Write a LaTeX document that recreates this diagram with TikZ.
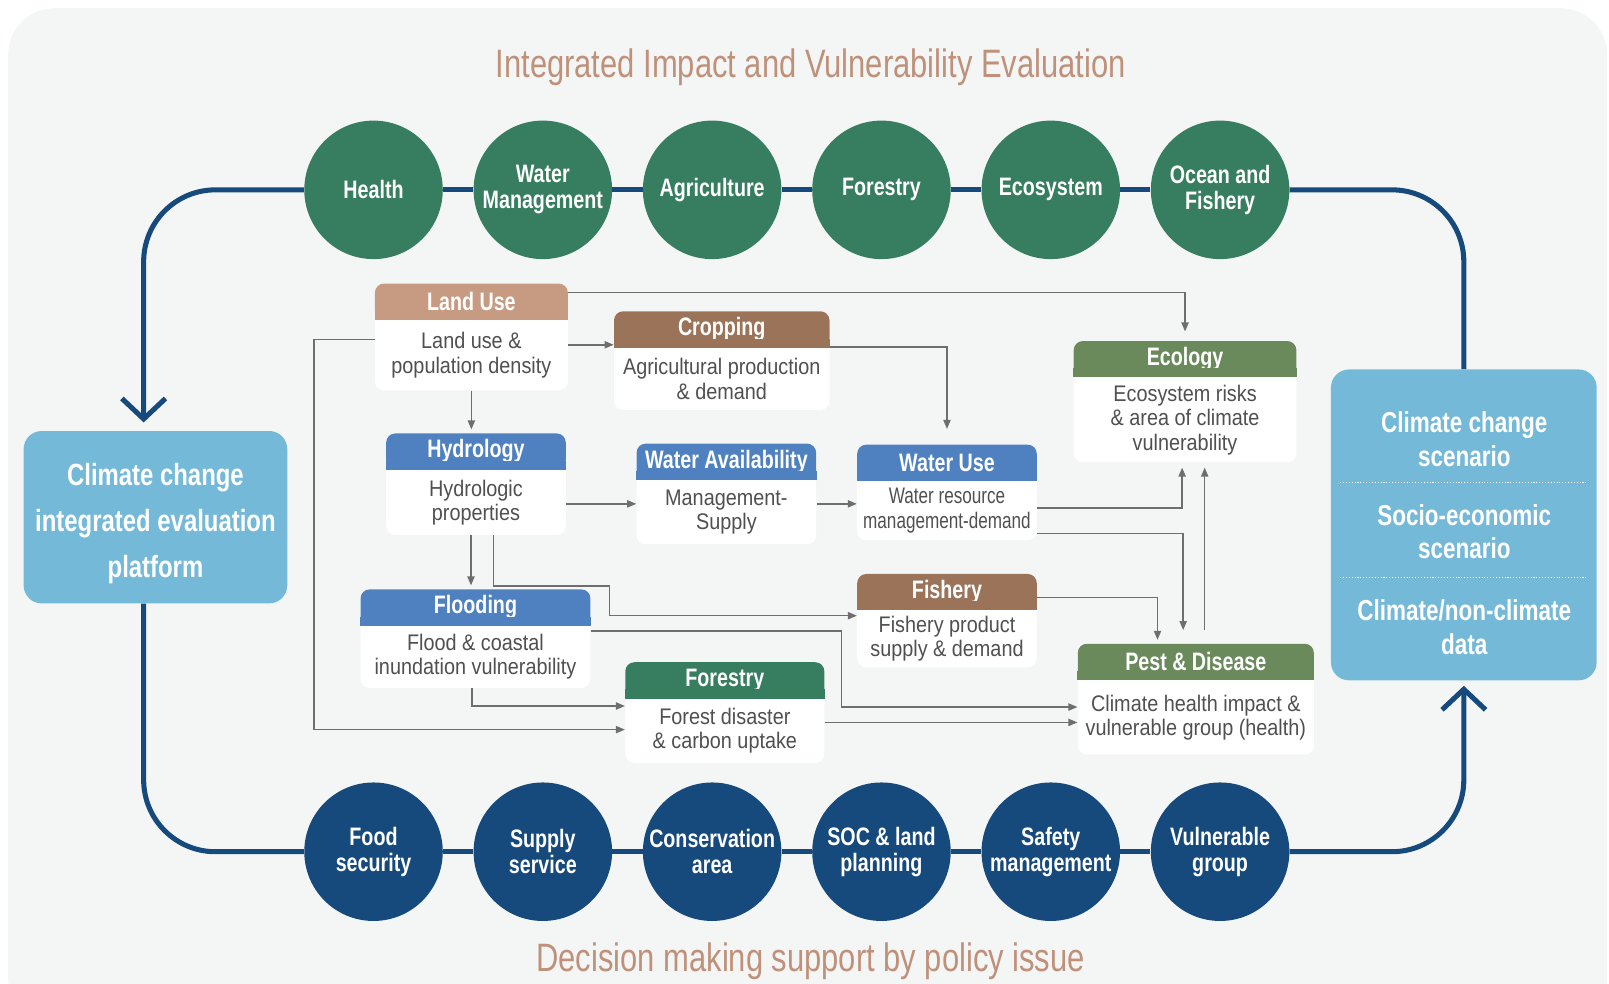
\documentclass[tikz,border=0pt]{standalone}
\usepackage{fontspec}
\setmainfont{Liberation Sans}[FakeStretch=0.78]
\newfontfamily\bodyfont{Liberation Sans}[FakeStretch=0.88]
\newfontfamily\narrowfont{Liberation Sans}[FakeStretch=0.76]
\usetikzlibrary{arrows.meta,calc,positioning}
\definecolor{bggray}{HTML}{F4F6F6}
\definecolor{titletan}{HTML}{C0917A}
\definecolor{navy}{HTML}{174A7C}
\definecolor{leafgreen}{HTML}{377E60}
\definecolor{skyblue}{HTML}{75B9D9}
\definecolor{landtan}{HTML}{C79B82}
\definecolor{cropbrown}{HTML}{9B7359}
\definecolor{hydroblue}{HTML}{4F81C1}
\definecolor{olive}{HTML}{6B8A5C}
\definecolor{flowgray}{HTML}{6E6E6E}
\definecolor{bodygray}{HTML}{505050}
\begin{document}
\begin{tikzpicture}
[x=0.02cm,y=-0.02cm,
  loopline/.style={line width=2.8pt,draw=navy},
  looptip/.style={-{Straight Barb[length=0.4cm,width=0.85cm]}},
  topcirc/.style={shape=circle,minimum size=2.7cm,inner sep=0pt,fill=leafgreen,
    text=white,align=center,font=\bfseries\fontsize{14}{14.5}\selectfont},
  botcirc/.style={topcirc,fill=navy},
  modbox/.style={shape=rectangle,rounded corners=5pt,fill=white,anchor=north west,inner sep=0pt},
  headbox/.style={shape=rectangle,rounded corners=5pt,anchor=north,inner sep=0pt,
    minimum height=0.7cm,text=white,font=\bfseries\fontsize{14}{15}\selectfont},
  bodytext/.style={align=center,inner sep=0pt,text=bodygray,font=\bodyfont\fontsize{12.5}{13.5}\selectfont},
  bluebox/.style={shape=rectangle,rounded corners=10pt,fill=skyblue,text=white,align=center},
  sidetext/.style={align=center,text=white,font=\bfseries\fontsize{16}{18.7}\selectfont},
  flow/.style={draw=flowgray,line width=0.8pt,-{Triangle[length=5pt,width=4pt]}}]
\useasboundingbox (0,0) rectangle (1568,958);
\fill[bggray,rounded corners=0.9cm] (8,8) rectangle (1566,1000);

%% titles
\node (toptitle) [text=titletan,font=\fontsize{22}{24}\selectfont] at (790,66)
  {Integrated Impact and Vulnerability Evaluation};
\node (bottitle) [text=titletan,font=\fontsize{22}{24}\selectfont] at (790,937)
  {Decision making support by policy issue};

%% sector circles
\foreach \nodename/\x/\txt in {health/364/Health, watermgmt/529/{Water\\Management},
  agri/694/Agriculture, forest/859/Forestry, eco/1024/Ecosystem,
  ocean/1189/{Ocean and\\Fishery}} {
  \node (\nodename) [topcirc] at (\x,185) {\txt};
}
\foreach \nodename/\x/\txt in {food/364/{Food\\security}, supply/529/{Supply\\service},
  conserve/694/{Conservation\\area}, soc/859/{SOC \& land\\planning},
  safety/1024/{Safety\\management}, vulnerable/1189/{Vulnerable\\group}} {
  \node (\nodename) [botcirc] at (\x,830) {\txt};
}
\foreach \startnode/\endnode in {health/watermgmt, watermgmt/agri, agri/forest,
  forest/eco, eco/ocean, food/supply, supply/conserve, conserve/soc,
  soc/safety, safety/vulnerable} {
  \draw[loopline] (\startnode) -- (\endnode);
}

%% side boxes
\node (platform) [bluebox,minimum width=5.14cm,minimum height=3.36cm] at (151.5,504) {};
\node (platform-t) [sidetext,font=\bfseries\fontsize{17}{25.5}\selectfont] at (151.5,510)
  {Climate change\\integrated evaluation\\platform};
\node (scenbox) [bluebox,minimum width=5.18cm,minimum height=6.06cm] at (1426.5,511.5) {};
\node (ccscen) [sidetext] at (1427,428) {Climate change\\scenario};
\node (sescen) [sidetext] at (1427,518) {Socio-economic\\scenario};
\node (cndata) [sidetext] at (1427,611) {Climate/non-climate\\data};
\draw[white,densely dotted,line width=0.6pt] (1306,470) -- (1547,470);
\draw[white,densely dotted,line width=0.6pt] (1306,563) -- (1547,563);

%% the loop
\draw[loopline,looptip,rounded corners=1.4cm] (health.west) -| ($(platform.north -| 140,0)+(0,-8)$);
\draw[loopline,rounded corners=1.4cm] (platform.south -| 140,0) |- (food.west);
\draw[loopline,looptip,rounded corners=1.4cm] (vulnerable.east) -| ($(scenbox.south)+(0,5)$);
\draw[loopline,rounded corners=1.4cm] (ocean.east) -| (scenbox.north);

%% model boxes
\foreach \n/\x/\y/\w/\h/\c/\t/\b in {
  landuse/365/276/188/104/landtan/Land Use/{Land use \&\\population density},
  cropping/598/303/210/96/cropbrown/Cropping/{Agricultural production\\\& demand},
  hydrology/376/422/175/99/hydroblue/Hydrology/{Hydrologic\\properties},
  wateravail/620/432/175/98/hydroblue/Water Availability/{Management-\\Supply},
  wateruse/835/433/175/93/hydroblue/Water Use/{\narrowfont Water resource\\\narrowfont management-demand},
  ecology/1046/332/217/118/olive/Ecology/{Ecosystem risks\\\& area of climate\\vulnerability},
  flooding/351/574/224/96/hydroblue/Flooding/{Flood \& coastal\\inundation vulnerability},
  fishery/835/559/175/91/cropbrown/Fishery/{Fishery product\\supply \& demand},
  forestry/609/645/194/98/leafgreen/Forestry/{Forest disaster\\\& carbon uptake},
  pest/1050/627/230/108/olive/Pest \& Disease/{Climate health impact \&\\vulnerable group (health)}} {
  \node (\n) [modbox,minimum width=\w*0.02cm,minimum height=\h*0.02cm] at (\x,\y) {};
  \node (\n-h) [headbox,fill=\c,minimum width=\w*0.02cm] at (\n.north) {\t};
  \fill[\c] ([yshift=5pt]\n-h.south west) rectangle (\n-h.south east);
  \node (\n-t) [bodytext] at ($(\n-h.south)!0.5!(\n.south)$) {\b};
}

%% flows
\draw[flow,shorten >=0.18cm] (landuse.east |- 0,285) -| (ecology.north);
\draw[flow] (landuse.east |- 0,336) -- (cropping.west |- 0,336);
\draw[flow] (landuse.west |- 0,331) -- (306,331) |- (forestry.west |- 0,711);
\draw[flow,shorten >=2pt] (landuse.south) -- (landuse.south |- hydrology.north);
\draw[flow,shorten >=0.3cm] (cropping.east |- 0,338) -| (wateruse.north);
\draw[flow] (hydrology.east |- 0,491) -- (wateravail.west |- 0,491);
\draw[flow] (wateravail.east |- 0,491) -- (wateruse.west |- 0,491);
\draw[flow,shorten >=2pt] (hydrology.south -| 459,0) -- (flooding.north -| 459,0);
\draw[flow] (hydrology.south -| 481,0) |- (594,571) |- (fishery.west |- 0,600);
\draw[flow] (flooding.east |- 0,615) -| (820,689) -- (pest.west |- 0,689);
\draw[flow] (flooding.south -| 460,0) |- (forestry.west |- 0,688);
\draw[flow] (forestry.east |- 0,704) -- (pest.west |- 0,704);
\draw[flow,shorten >=0.1cm] (wateruse.east |- 0,495) -| (ecology.south -| 1152,0);
\draw[flow,shorten >=0.26cm] (wateruse.east |- 0,520) -| (pest.north -| 1153,0);
\draw[flow,shorten <=0.26cm,shorten >=0.1cm] (pest.north -| 1174,0) -- (ecology.south -| 1174,0);
\draw[flow,shorten >=2pt] (fishery.east |- 0,582) -| (pest.north -| 1128,0);
\end{tikzpicture}
\end{document}
